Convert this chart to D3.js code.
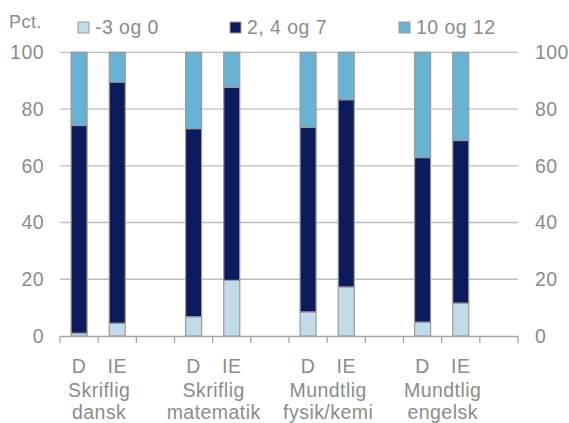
<!DOCTYPE html>
<html><head><meta charset="utf-8">
<script src="https://cdn.jsdelivr.net/npm/d3@7"></script>
<style>
html,body{margin:0;padding:0;background:#fff;}
text{font-family:"Liberation Sans",Arial,sans-serif;fill:#8c8c8c;letter-spacing:0.45px;}
</style></head>
<body><svg id="c" width="569" height="423"></svg>
<script>
const slots = ["D","IE","","D","IE","","D","IE","","D","IE",""];
const groups = [["Skriflig","dansk"],["Skriflig","matematik"],["Mundtlig","fysik/kemi"],["Mundtlig","engelsk"]];
const seriesNames = ["-3 og 0","2, 4 og 7","10 og 12"];
const low  = [1.0, 4.5, null, 6.8, 19.6, null, 8.5, 17.3, null, 4.9, 11.6, null];
const mid  = [73.2, 85.0, null, 66.3, 68.1, null, 65.1, 66.0, null, 58.0, 57.3, null];
const high = [25.8, 10.5, null, 26.9, 12.3, null, 26.4, 16.7, null, 37.1, 31.1, null];
const yTicks = [0,20,40,60,80,100];
const colors = ["#c2dbe8","#0d1b5c","#68b2d4"];

const svg = d3.select("#c");
const x = d3.scaleBand().domain(d3.range(slots.length)).range([60,518]).padding(0);
const y = d3.scaleLinear().domain([0,100]).range([336,52.3]);
const bw = 16;
const fs = 19.5;

// gridlines
svg.append("g").selectAll("line").data(yTicks.filter(t=>t>0)).join("line")
  .attr("x1",60).attr("x2",518).attr("y1",d=>y(d)).attr("y2",d=>y(d))
  .attr("stroke","#bdbdbd").attr("stroke-width",1.3);

// y labels
svg.append("g").selectAll("text").data(yTicks).join("text")
  .attr("x",44).attr("y",d=>y(d)).attr("dy","0.35em").attr("text-anchor","end")
  .attr("font-size",fs).text(d=>d);
svg.append("g").selectAll("text").data(yTicks).join("text")
  .attr("x",535).attr("y",d=>y(d)).attr("dy","0.35em").attr("text-anchor","start")
  .attr("font-size",fs).text(d=>d);

// stacked bars
const rows = slots.map((s,i)=>({i, vals:[low[i],mid[i],high[i]]})).filter(r=>r.vals[0]!=null);
const stacked = [];
rows.forEach(r=>{
  let acc=0;
  r.vals.forEach((v,k)=>{ stacked.push({i:r.i,k,y0:acc,y1:acc+v}); acc+=v; });
});
svg.append("g").selectAll("rect").data(stacked).join("rect")
  .attr("x",d=>x(d.i)+(x.bandwidth()-bw)/2).attr("width",bw)
  .attr("y",d=>y(d.y1)).attr("height",d=>y(d.y0)-y(d.y1))
  .attr("fill",d=>colors[d.k]).attr("stroke","#9a9a9a").attr("stroke-width",1.2);

// x axis
const xa = svg.append("g");
xa.append("line").attr("x1",60).attr("x2",518).attr("y1",336.5).attr("y2",336.5)
  .attr("stroke","#a6a6a6").attr("stroke-width",1.5);
const edges = d3.range(slots.length+1).map(i=> i<slots.length ? x(i) : x.range()[1]);
xa.selectAll("line.t").data(edges).join("line").attr("class","t")
  .attr("x1",d=>d).attr("x2",d=>d).attr("y1",336).attr("y2",343)
  .attr("stroke","#a6a6a6").attr("stroke-width",1.3);
xa.selectAll("text.s").data(slots.map((s,i)=>({s,i})).filter(d=>d.s)).join("text").attr("class","s")
  .attr("x",d=>x(d.i)+x.bandwidth()/2).attr("y",373).attr("text-anchor","middle")
  .attr("font-size",fs).text(d=>d.s);
groups.forEach((g,gi)=>{
  const cx = (x(gi*3)+x(gi*3+1)+x.bandwidth())/2 + 1;
  g.forEach((line,li)=>{
    xa.append("text").attr("x",cx).attr("y",397+li*22).attr("text-anchor","middle")
      .attr("font-size",fs).text(line);
  });
});

// Pct label
svg.append("text").attr("x",9).attr("y",28).attr("font-size",18).text("Pct.");

// legend
const legX = [78,230,399];
const lg = svg.append("g").selectAll("g").data(seriesNames).join("g")
  .attr("transform",(d,i)=>`translate(${legX[i]},0)`);
lg.append("rect").attr("x",0).attr("y",22).attr("width",11).attr("height",11)
  .attr("fill",(d,i)=>colors[i]).attr("stroke","#9a9a9a").attr("stroke-width",1);
lg.append("text").attr("x",17).attr("y",34).attr("font-size",fs).text(d=>d);
</script></body></html>
